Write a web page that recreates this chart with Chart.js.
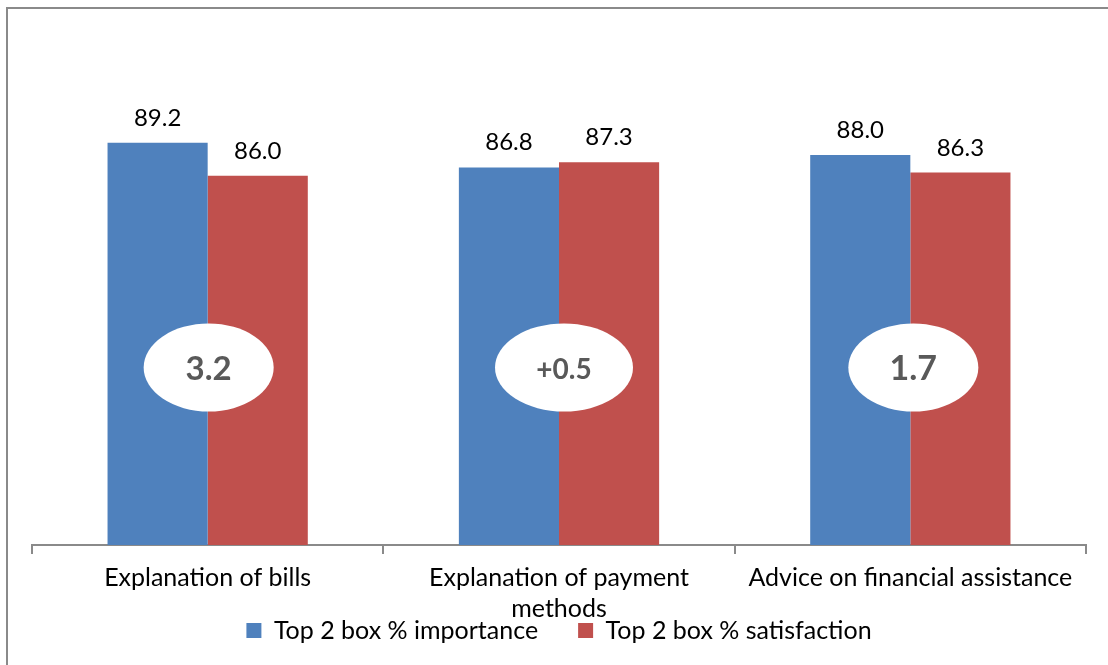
<!DOCTYPE html>
<html>
<head>
<meta charset="utf-8">
<script src="https://cdn.jsdelivr.net/npm/chart.js@4.4.1/dist/chart.umd.min.js"></script>
<style>
  html, body { margin: 0; padding: 0; background: #ffffff; }
  #wrap { width: 1108px; height: 665px; position: relative; }
</style>
</head>
<body>
<div id="wrap"><canvas id="c" width="1108" height="665"></canvas></div>
<script>
// ---- data ----
const categories = ["Explanation of bills", ["Explanation of payment", "methods"], "Advice on financial assistance"];
const importance = [89.2, 86.8, 88.0];
const satisfaction = [86.0, 87.3, 86.3];
const gapLabels = ["3.2", "+0.5", "1.7"];
const seriesNames = ["Top 2 box % importance", "Top 2 box % satisfaction"];

const FONT = "Lato, 'Open Sans', sans-serif";

const borderPlugin = {
  id: 'frame',
  beforeDraw(chart) {
    const ctx = chart.ctx;
    ctx.save();
    ctx.fillStyle = '#ffffff';
    ctx.fillRect(0, 0, chart.width, chart.height);
    ctx.strokeStyle = '#8a8a8a';
    ctx.lineWidth = 2;
    ctx.strokeRect(7, 8, chart.width + 20, chart.height + 20);
    ctx.restore();
    // let the category labels overflow the (short) axis box, as in the original
    if (chart.scales.x) chart.scales.x._computeLabelArea = function () { return undefined; };
  }
};

const valueLabels = {
  id: 'valueLabels',
  afterDatasetsDraw(chart) {
    const ctx = chart.ctx;
    ctx.save();
    ctx.fillStyle = '#000000';
    ctx.font = "24px " + FONT;
    ctx.textAlign = 'center';
    ctx.textBaseline = 'alphabetic';
    chart.data.datasets.forEach((ds, di) => {
      const meta = chart.getDatasetMeta(di);
      meta.data.forEach((el, i) => {
        ctx.fillText(ds.data[i].toFixed(1), el.x, el.y - 17);
      });
    });
    ctx.restore();
  }
};

const gapBubbles = {
  id: 'gapBubbles',
  afterDatasetsDraw(chart, args, opts) {
    const ctx = chart.ctx;
    const xs = chart.scales.x, ys = chart.scales.y;
    ctx.save();
    gapLabels.forEach((lab, i) => {
      const cx = xs.getPixelForValue(i) + opts.dx[i];
      const cy = ys.getPixelForValue(opts.yValue);
      ctx.beginPath();
      ctx.ellipse(cx, cy, opts.rx[i], opts.ry, 0, 0, Math.PI * 2);
      ctx.fillStyle = '#ffffff';
      ctx.fill();
      ctx.fillStyle = '#595959';
      ctx.font = "bold " + opts.sizes[i] + "px " + FONT;
      ctx.textAlign = 'center';
      ctx.textBaseline = 'middle';
      ctx.fillText(lab, cx, cy + 2);
    });
    ctx.restore();
  }
};

new Chart(document.getElementById('c'), {
  type: 'bar',
  data: {
    labels: categories,
    datasets: [
      { label: seriesNames[0], data: importance, backgroundColor: '#4F81BD' },
      { label: seriesNames[1], data: satisfaction, backgroundColor: '#C0504D' }
    ]
  },
  plugins: [borderPlugin, valueLabels, gapBubbles],
  options: {
    responsive: false,
    animation: false,
    layout: { padding: { left: 32, right: 22, top: 32, bottom: 12 } },
    datasets: { bar: { categoryPercentage: 0.57, barPercentage: 1.0 } },
    scales: {
      y: { display: false, min: 50, max: 100 },
      x: {
        afterFit(scale) { scale.height = 33; },
        grid: { display: true, drawOnChartArea: false, drawTicks: true, tickLength: 9, offset: true, color: '#8a8a8a', lineWidth: 2 },
        border: { display: true, color: '#8a8a8a', width: 2 },
        ticks: { color: '#000000', font: { family: FONT, size: 25, lineHeight: 1.24 }, padding: 8, maxRotation: 0, autoSkip: false }
      }
    },
    plugins: {
      legend: {
        position: 'bottom',
        labels: { color: '#000000', font: { family: FONT, size: 25 }, boxWidth: 15, boxHeight: 15, padding: 40, useBorderRadius: false }
      },
      tooltip: { enabled: false },
      gapBubbles: { yValue: 67.3, dx: [1, 5, 3], rx: [65, 69, 65], ry: 44, sizes: [33, 28, 34] }
    }
  }
});
</script>
</body>
</html>
